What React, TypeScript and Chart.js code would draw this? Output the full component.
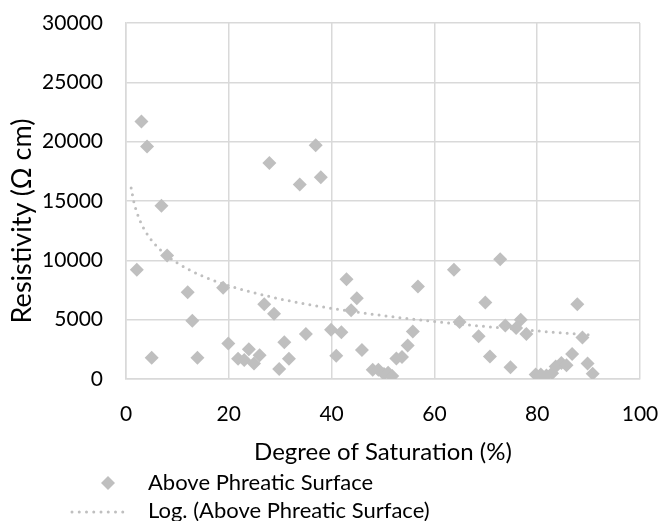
import React, { useEffect, useRef } from "react";
import { Chart, registerables } from "chart.js";

Chart.register(...registerables);

// Degree of saturation (%) of each measurement
const saturation = [
  2.1, 3.0, 4.1, 5.0, 6.9, 8.0, 12.0, 12.9, 13.9, 18.9,
  19.9, 21.8, 23.0, 23.9, 24.9, 26.0, 26.9, 27.9, 28.8, 29.8,
  30.8, 31.7, 33.8, 35.0, 36.9, 37.9, 39.9, 40.9, 41.9, 42.9,
  43.8, 44.9, 45.9, 48.0, 49.1, 50.2, 51.0, 51.8, 52.6, 53.7,
  54.8, 55.8, 56.8, 63.8, 64.9, 68.6, 69.9, 70.8, 72.8, 73.8,
  74.8, 75.9, 76.8, 77.9, 79.7, 80.7, 81.8, 82.9, 83.6, 84.7,
  85.7, 86.8, 87.8, 88.8, 89.8, 90.8,
];

// Resistivity (Ω cm) of each measurement
const resistivity = [
  9200, 21700, 19600, 1800, 14600, 10400, 7300, 4900, 1800, 7700,
  3000, 1700, 1600, 2500, 1300, 2000, 6300, 18200, 5500, 850,
  3100, 1700, 16400, 3800, 19700, 17000, 4150, 1950, 3950, 8400,
  5800, 6800, 2450, 780, 780, 420, 520, 250, 1720, 1850,
  2820, 4000, 7800, 9200, 4800, 3600, 6450, 1900, 10100, 4500,
  1000, 4300, 5000, 3800, 380, 380, 300, 480, 1050, 1350,
  1150, 2100, 6300, 3500, 1300, 450,
];

// Logarithmic trendline
const trendSaturation = [1, 1.5, 2, 3, 4, 5, 7, 10, 15, 20, 30, 40, 50, 60, 70, 80, 91];
const trendResistivity = [
  16100, 14985, 14194, 13079, 12288, 11674, 10749, 9768, 8653, 7862,
  6747, 5956, 5342, 4841, 4418, 4050, 3700,
];

const xTickValues = [0, 20, 40, 60, 80, 100];
const xTickLabels = ["0", "20", "40", "60", "80", "100"];
const yTickValues = [0, 5000, 10000, 15000, 20000, 25000, 30000];
const yTickLabels = ["0", "5000", "10000", "15000", "20000", "25000", "30000"];

const seriesLabel = "Above Phreatic Surface";
const trendLabel = "Log. (Above Phreatic Surface)";
const xTitle = "Degree of Saturation (%)";
const yTitle = "Resistivity (Ω cm)";

const FONT = "Lato, 'Open Sans', sans-serif";
const GREY = "#BFBFBF";
const GRID = "#D9D9D9";

export default function App() {
  const canvasRef = useRef<HTMLCanvasElement | null>(null);

  useEffect(() => {
    document.body.style.margin = "0";
    const canvas = canvasRef.current;
    if (!canvas) return;
    const chart = new Chart(canvas, {
      type: "scatter",
      data: {
        datasets: [
          {
            label: seriesLabel,
            data: saturation.map((x, i) => ({ x, y: resistivity[i] })),
            pointStyle: "rectRot",
            pointRadius: 7,
            pointHoverRadius: 7,
            pointBackgroundColor: GREY,
            pointBorderWidth: 0,
            showLine: false,
            order: 1,
          },
          {
            label: trendLabel,
            data: trendSaturation.map((x, i) => ({ x, y: trendResistivity[i] })),
            showLine: true,
            pointRadius: 0,
            pointHoverRadius: 0,
            borderColor: GREY,
            borderWidth: 3,
            borderDash: [0, 7],
            borderCapStyle: "round",
            cubicInterpolationMode: "monotone",
            fill: false,
            order: 0,
          } as any,
        ],
      },
      options: {
        animation: false,
        responsive: false,
        events: [],
        layout: { padding: { top: 23, right: 21, bottom: 0, left: 0 } },
        plugins: {
          legend: { display: false },
          tooltip: { enabled: false },
        },
        scales: {
          x: {
            type: "linear",
            min: 0,
            max: 100,
            afterBuildTicks: (s: any) => {
              s.ticks = xTickValues.map((v) => ({ value: v }));
            },
            afterFit: (s: any) => {
              s.height = 91;
              s.paddingLeft = 0;
              s.paddingRight = 0;
            },
            grid: { color: GRID, lineWidth: 1.5, drawTicks: false },
            border: { color: GRID, width: 1.5 },
            ticks: {
              padding: 23,
              color: "#000",
              font: { family: FONT, size: 21 },
              callback: (_v: any, i: number) => xTickLabels[i],
            },
            title: {
              display: true,
              text: xTitle,
              color: "#000",
              font: { family: FONT, size: 24 },
              padding: { top: 0, bottom: 3 },
            },
          },
          y: {
            type: "linear",
            min: 0,
            max: 30000,
            afterBuildTicks: (s: any) => {
              s.ticks = yTickValues.map((v) => ({ value: v }));
            },
            afterFit: (s: any) => {
              s.width = 126;
              s.paddingTop = 0;
              s.paddingBottom = 0;
            },
            grid: { color: GRID, lineWidth: 1.5, drawTicks: false },
            border: { color: GRID, width: 1.5 },
            ticks: {
              padding: 23,
              color: "#000",
              font: { family: FONT, size: 21 },
              callback: (_v: any, i: number) => yTickLabels[i],
            },
          },
        },
      },
    });
    return () => chart.destroy();
  }, []);

  const legendText: React.CSSProperties = {
    position: "absolute",
    left: 148,
    fontFamily: FONT,
    fontSize: 22,
    color: "#000",
    whiteSpace: "nowrap",
    lineHeight: "26px",
    transform: "translateY(-50%)",
  };

  return (
    <div style={{ position: "relative", width: 661, height: 521, background: "#fff", overflow: "hidden" }}>
      <canvas ref={canvasRef} width={661} height={470} style={{ position: "absolute", left: 0, top: 0 }} />
      <div
        style={{
          position: "absolute",
          left: 21,
          top: 221,
          transform: "translate(-50%, -50%) rotate(-90deg)",
          fontFamily: FONT,
          fontSize: 27,
          color: "#000",
          whiteSpace: "nowrap",
          lineHeight: "32px",
        }}
      >
        {yTitle}
      </div>
      <svg width={661} height={521} style={{ position: "absolute", left: 0, top: 0, pointerEvents: "none" }}>
        <polygon points="101,483 108,476 115,483 108,490" fill={GREY} />
        <line x1={72} y1={512} x2={130} y2={512} stroke={GREY} strokeWidth={3} strokeDasharray="0 7.25" strokeLinecap="round" />
      </svg>
      <div style={{ ...legendText, top: 482 }}>{seriesLabel}</div>
      <div style={{ ...legendText, top: 510 }}>{trendLabel}</div>
    </div>
  );
}
